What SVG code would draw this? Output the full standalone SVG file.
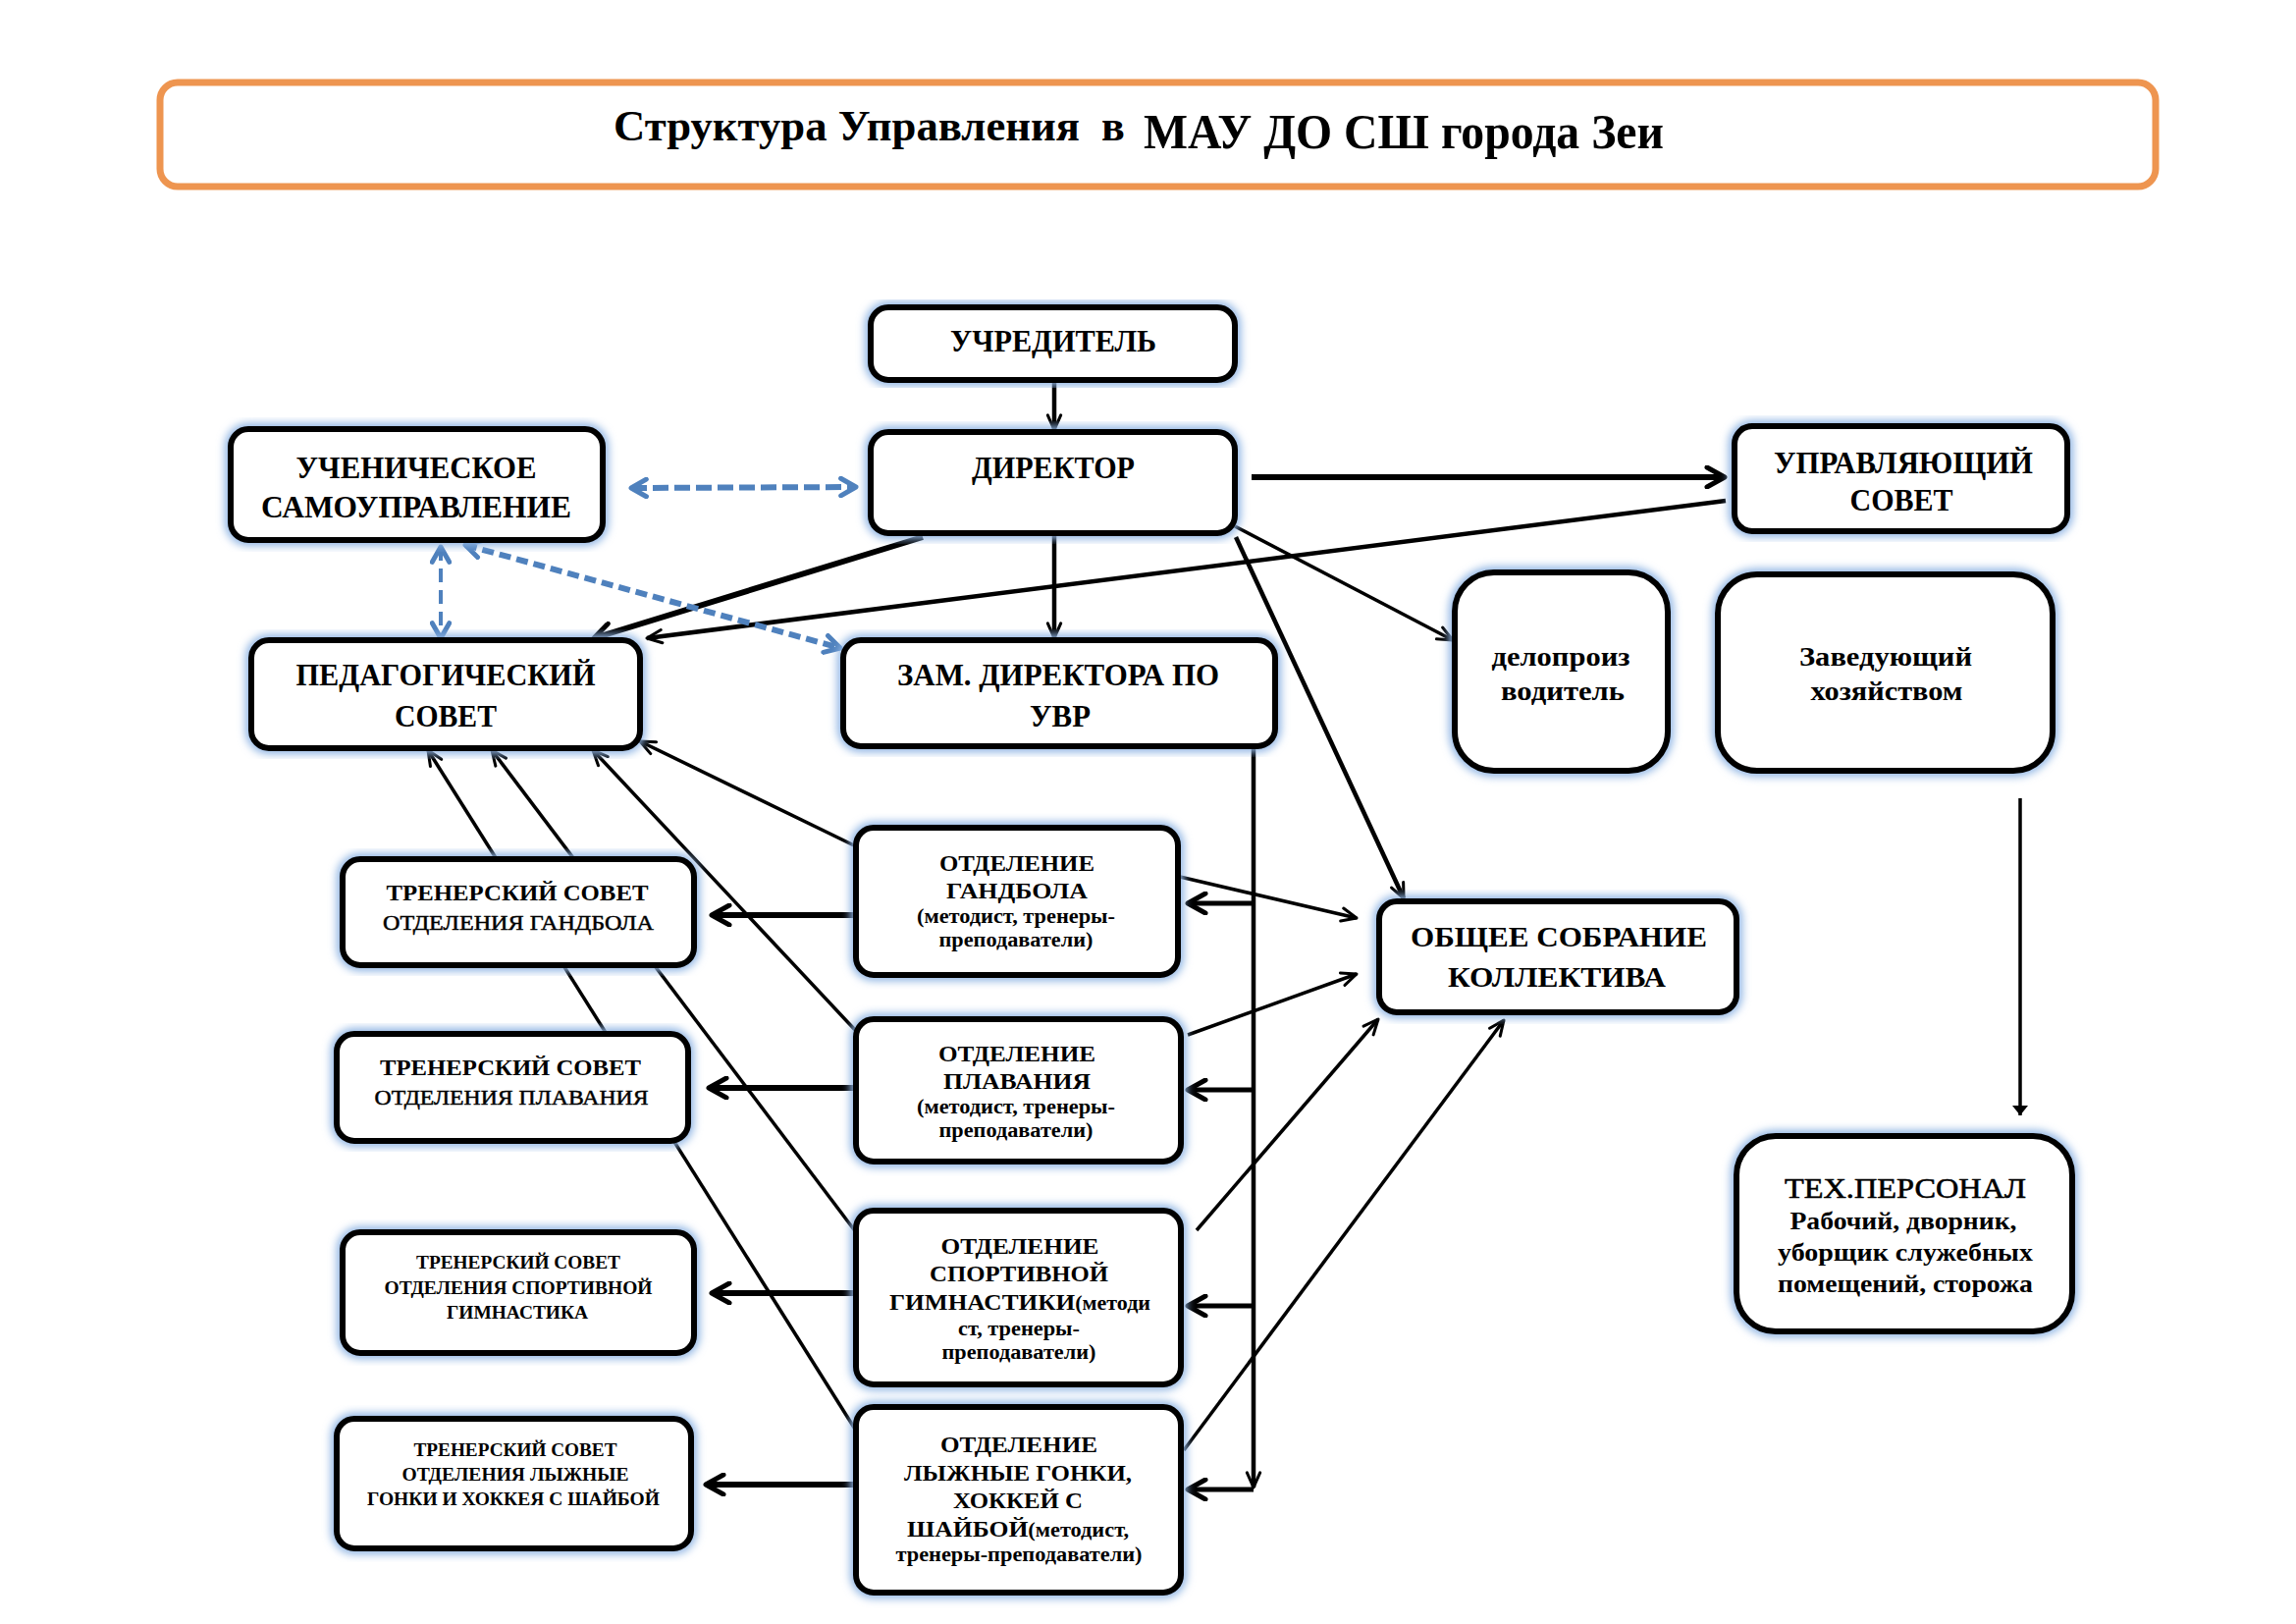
<svg xmlns="http://www.w3.org/2000/svg" width="2339" height="1654" viewBox="0 0 2339 1654">
<style>
.bg{fill:#fff}
.box{fill:#fff;stroke:#000;stroke-width:6}
.glow{fill:none;stroke:#8EB4E3;stroke-width:12;filter:url(#blur)}
.t{font-family:"Liberation Serif","Times New Roman",serif;font-weight:bold;fill:#000;text-anchor:middle}
.r{font-weight:normal}
.s31{font-size:31px}
.s30{font-size:30px}
.s28{font-size:28px}
.s25{font-size:25px}
.s23{font-size:23px}
.s22{font-size:22px}
.s20{font-size:20px}
.s18{font-size:18px}
.ln{fill:none;stroke:#000;stroke-linecap:butt}
.w3{stroke-width:3.5}
.w4{stroke-width:4.5}
.w5{stroke-width:5}
.w6{stroke-width:6}
.thin{marker-end:url(#aThin)}
.thick{marker-end:url(#aThick)}
.dash{fill:none;stroke:#4F81BD;marker-start:url(#aBlue);marker-end:url(#aBlue)}
</style>
<defs>
<filter id="blur" x="-10%" y="-10%" width="120%" height="120%"><feGaussianBlur stdDeviation="4"/></filter>
<marker id="aThin" viewBox="0 0 20 20" refX="18" refY="10" markerWidth="19" markerHeight="19" markerUnits="userSpaceOnUse" orient="auto-start-reverse">
<path d="M2,3 L18,10 L2,17" fill="none" stroke="#000" stroke-width="3.2" stroke-linecap="round" stroke-linejoin="round"/>
</marker>
<marker id="aThick" viewBox="0 0 24 24" refX="21" refY="12" markerWidth="24" markerHeight="24" markerUnits="userSpaceOnUse" orient="auto-start-reverse">
<path d="M3,2 L21,12 L3,22" fill="none" stroke="#000" stroke-width="5" stroke-linecap="round" stroke-linejoin="round"/>
</marker>
<marker id="aBlue" viewBox="0 0 20 20" refX="17" refY="10" markerWidth="22" markerHeight="22" markerUnits="userSpaceOnUse" orient="auto-start-reverse">
<path d="M3,2 L17,10 L3,18" fill="none" stroke="#4F81BD" stroke-width="4.5" stroke-linecap="round" stroke-linejoin="round"/>
</marker>
<marker id="aFill" viewBox="0 0 10 20" refX="10" refY="10" markerWidth="10" markerHeight="20" markerUnits="userSpaceOnUse" orient="auto">
<path d="M0,2 L10,10 L0,18 Z" fill="#000"/>
</marker>
</defs>
<rect class="bg" x="0" y="0" width="2339" height="1654"/>

<g id="title">
<rect x="163" y="84" width="2033" height="106" rx="18" fill="#fff" stroke="#EE9550" stroke-width="7"/>
<text class="t" style="text-anchor:start;font-size:44px" x="625" y="143" textLength="475" lengthAdjust="spacingAndGlyphs">Структура Управления</text>
<text class="t" style="text-anchor:start;font-size:44px" x="1122" y="143">в</text>
<text class="t" style="text-anchor:start;font-size:50px" x="1165" y="151" textLength="530" lengthAdjust="spacingAndGlyphs">МАУ ДО СШ города Зеи</text>
</g>

<g id="connectors">
<path class="ln w4 thin" d="M1074,387 L1074,438"/>
<path class="ln w6 thick" d="M1275,486 L1757,486"/>
<path class="ln w4 thin" d="M1758,510 L659,650"/>
<path class="ln w6 thick" d="M940,547 L605,650"/>
<path class="ln w4 thin" d="M1074,546 L1074,650"/>
<path class="ln w3 thin" d="M1258,536 L1480,652"/>
<path class="ln w4 thin" d="M1259,547 L1430,915"/>
<path class="ln w4 thin" d="M1277,760 L1277,1515"/>
<path class="ln w5 thick" d="M1277,920 L1210,920"/>
<path class="ln w5 thick" d="M1277,1110 L1210,1110"/>
<path class="ln w5 thick" d="M1277,1330 L1210,1330"/>
<path class="ln w5 thick" d="M1277,1517 L1210,1517"/>
<path class="ln w6 thick" d="M872,932 L725,932"/>
<path class="ln w6 thick" d="M872,1108 L722,1108"/>
<path class="ln w6 thick" d="M872,1317 L725,1317"/>
<path class="ln w6 thick" d="M872,1512 L719,1512"/>
<path class="ln w3 thin" d="M1202,893 L1382,935"/>
<path class="ln w3 thin" d="M1210,1054 L1382,992"/>
<path class="ln w3 thin" d="M1219,1253 L1404,1038"/>
<path class="ln w3 thin" d="M1206,1477 L1532,1039"/>
<path class="ln w3 thin" d="M872,862 L652,755"/>
<path class="ln w3 thin" d="M872,1050 L604,764"/>
<path class="ln w3 thin" d="M872,1255 L501,764"/>
<path class="ln w3 thin" d="M872,1457 L436,764"/>
<path class="ln w3" d="M2058,813 L2058,1136" marker-end="url(#aFill)"/>
<path class="dash" stroke-width="6" stroke-dasharray="16 6" d="M643,497 L872,496"/>
<path class="dash" stroke-width="4" stroke-dasharray="14 8" d="M449,557 L449,650"/>
<path class="dash" stroke-width="6" stroke-dasharray="12 6" d="M474,555 L856,660"/>
</g>

<g id="n-uchreditel">
<rect class="glow" x="887" y="313" width="371" height="74" rx="18"/>
<rect class="box" x="887" y="313" width="371" height="74" rx="18"/>
<text class="t s31" x="1073" y="358" textLength="210" lengthAdjust="spacingAndGlyphs">УЧРЕДИТЕЛЬ</text>
</g>
<g id="n-director">
<rect class="glow" x="887" y="440" width="371" height="103" rx="18"/>
<rect class="box" x="887" y="440" width="371" height="103" rx="18"/>
<text class="t s31" x="1073" y="487" textLength="166" lengthAdjust="spacingAndGlyphs">ДИРЕКТОР</text>
</g>
<g id="n-uchenich">
<rect class="glow" x="235" y="437" width="379" height="113" rx="18"/>
<rect class="box" x="235" y="437" width="379" height="113" rx="18"/>
<text class="t s31" x="424" y="487" textLength="245" lengthAdjust="spacingAndGlyphs">УЧЕНИЧЕСКОЕ</text>
<text class="t s31" x="424" y="527" textLength="316" lengthAdjust="spacingAndGlyphs">САМОУПРАВЛЕНИЕ</text>
</g>
<g id="n-ped">
<rect class="glow" x="256" y="652" width="396" height="110" rx="18"/>
<rect class="box" x="256" y="652" width="396" height="110" rx="18"/>
<text class="t s31" x="454" y="698" textLength="305" lengthAdjust="spacingAndGlyphs">ПЕДАГОГИЧЕСКИЙ</text>
<text class="t s31" x="454" y="740" textLength="104" lengthAdjust="spacingAndGlyphs">СОВЕТ</text>
</g>
<g id="n-zam">
<rect class="glow" x="859" y="652" width="440" height="108" rx="18"/>
<rect class="box" x="859" y="652" width="440" height="108" rx="18"/>
<text class="t s31" x="1078" y="698" textLength="328" lengthAdjust="spacingAndGlyphs">ЗАМ. ДИРЕКТОРА ПО</text>
<text class="t s31" x="1080" y="740" textLength="62" lengthAdjust="spacingAndGlyphs">УВР</text>
</g>
<g id="n-upr">
<rect class="glow" x="1767" y="434" width="339" height="107" rx="18"/>
<rect class="box" x="1767" y="434" width="339" height="107" rx="18"/>
<text class="t s31" x="1939" y="482" textLength="264" lengthAdjust="spacingAndGlyphs">УПРАВЛЯЮЩИЙ</text>
<text class="t s31" x="1937" y="520" textLength="105" lengthAdjust="spacingAndGlyphs">СОВЕТ</text>
</g>
<g id="n-delo">
<rect class="glow" x="1482" y="583" width="217" height="202" rx="40"/>
<rect class="box" x="1482" y="583" width="217" height="202" rx="40"/>
<text class="t s28" x="1590" y="678" textLength="141" lengthAdjust="spacingAndGlyphs">делопроиз</text>
<text class="t s28" x="1592" y="713" textLength="126" lengthAdjust="spacingAndGlyphs">водитель</text>
</g>
<g id="n-zav">
<rect class="glow" x="1750" y="585" width="341" height="200" rx="40"/>
<rect class="box" x="1750" y="585" width="341" height="200" rx="40"/>
<text class="t s28" x="1921" y="678" textLength="176" lengthAdjust="spacingAndGlyphs">Заведующий</text>
<text class="t s28" x="1922" y="713" textLength="155" lengthAdjust="spacingAndGlyphs">хозяйством</text>
</g>
<g id="n-obsh">
<rect class="glow" x="1405" y="918" width="364" height="113" rx="18"/>
<rect class="box" x="1405" y="918" width="364" height="113" rx="18"/>
<text class="t s30" x="1588" y="964" textLength="302" lengthAdjust="spacingAndGlyphs">ОБЩЕЕ СОБРАНИЕ</text>
<text class="t s30" x="1586" y="1005" textLength="222" lengthAdjust="spacingAndGlyphs">КОЛЛЕКТИВА</text>
</g>
<g id="n-tex">
<rect class="glow" x="1769" y="1157" width="342" height="199" rx="40"/>
<rect class="box" x="1769" y="1157" width="342" height="199" rx="40"/>
<text class="t s30 r" x="1941" y="1220" textLength="246" lengthAdjust="spacingAndGlyphs" stroke="#000" stroke-width="0.6">ТЕХ.ПЕРСОНАЛ</text>
<text class="t s25" x="1939" y="1252" textLength="231" lengthAdjust="spacingAndGlyphs">Рабочий, дворник,</text>
<text class="t s25" x="1941" y="1284" textLength="260" lengthAdjust="spacingAndGlyphs">уборщик служебных</text>
<text class="t s25" x="1941" y="1316" textLength="260" lengthAdjust="spacingAndGlyphs">помещений, сторожа</text>
</g>
<g id="n-tr1">
<rect class="glow" x="349" y="875" width="358" height="108" rx="18"/>
<rect class="box" x="349" y="875" width="358" height="108" rx="18"/>
<text class="t s23" x="527" y="917" textLength="267" lengthAdjust="spacingAndGlyphs">ТРЕНЕРСКИЙ СОВЕТ</text>
<text class="t s22 r" x="528" y="947" textLength="276" lengthAdjust="spacingAndGlyphs" stroke="#000" stroke-width="0.5">ОТДЕЛЕНИЯ ГАНДБОЛА</text>
</g>
<g id="n-otd1">
<rect class="glow" x="872" y="843" width="328" height="150" rx="18"/>
<rect class="box" x="872" y="843" width="328" height="150" rx="18"/>
<text class="t s23" x="1036" y="887" textLength="158" lengthAdjust="spacingAndGlyphs">ОТДЕЛЕНИЕ</text>
<text class="t s23" x="1036" y="915" textLength="144" lengthAdjust="spacingAndGlyphs">ГАНДБОЛА</text>
<text class="t s20" x="1035" y="940" textLength="202" lengthAdjust="spacingAndGlyphs">(методист, тренеры-</text>
<text class="t s20" x="1035" y="964" textLength="157" lengthAdjust="spacingAndGlyphs">преподаватели)</text>
</g>
<g id="n-tr2">
<rect class="glow" x="343" y="1053" width="358" height="109" rx="18"/>
<rect class="box" x="343" y="1053" width="358" height="109" rx="18"/>
<text class="t s23" x="520" y="1095" textLength="266" lengthAdjust="spacingAndGlyphs">ТРЕНЕРСКИЙ СОВЕТ</text>
<text class="t s22 r" x="521" y="1125" textLength="279" lengthAdjust="spacingAndGlyphs" stroke="#000" stroke-width="0.5">ОТДЕЛЕНИЯ ПЛАВАНИЯ</text>
</g>
<g id="n-otd2">
<rect class="glow" x="872" y="1038" width="331" height="145" rx="18"/>
<rect class="box" x="872" y="1038" width="331" height="145" rx="18"/>
<text class="t s23" x="1036" y="1081" textLength="160" lengthAdjust="spacingAndGlyphs">ОТДЕЛЕНИЕ</text>
<text class="t s23" x="1036" y="1109" textLength="150" lengthAdjust="spacingAndGlyphs">ПЛАВАНИЯ</text>
<text class="t s20" x="1035" y="1134" textLength="202" lengthAdjust="spacingAndGlyphs">(методист, тренеры-</text>
<text class="t s20" x="1035" y="1158" textLength="157" lengthAdjust="spacingAndGlyphs">преподаватели)</text>
</g>
<g id="n-tr3">
<rect class="glow" x="349" y="1255" width="358" height="123" rx="18"/>
<rect class="box" x="349" y="1255" width="358" height="123" rx="18"/>
<text class="t s18" x="528" y="1292" textLength="208" lengthAdjust="spacingAndGlyphs">ТРЕНЕРСКИЙ СОВЕТ</text>
<text class="t s18" x="528" y="1318" textLength="273" lengthAdjust="spacingAndGlyphs">ОТДЕЛЕНИЯ СПОРТИВНОЙ</text>
<text class="t s18" x="527" y="1343" textLength="144" lengthAdjust="spacingAndGlyphs">ГИМНАСТИКА</text>
</g>
<g id="n-otd3">
<rect class="glow" x="872" y="1233" width="331" height="177" rx="18"/>
<rect class="box" x="872" y="1233" width="331" height="177" rx="18"/>
<text class="t s23" x="1039" y="1277" textLength="161" lengthAdjust="spacingAndGlyphs">ОТДЕЛЕНИЕ</text>
<text class="t s23" x="1038" y="1305" textLength="182" lengthAdjust="spacingAndGlyphs">СПОРТИВНОЙ</text>
<text class="t s23" x="1039" y="1334" textLength="266" lengthAdjust="spacingAndGlyphs">ГИМНАСТИКИ<tspan class="s20">(методи</tspan></text>
<text class="t s20" x="1038" y="1360" textLength="124" lengthAdjust="spacingAndGlyphs">ст, тренеры-</text>
<text class="t s20" x="1038" y="1384" textLength="157" lengthAdjust="spacingAndGlyphs">преподаватели)</text>
</g>
<g id="n-tr4">
<rect class="glow" x="343" y="1445" width="361" height="132" rx="18"/>
<rect class="box" x="343" y="1445" width="361" height="132" rx="18"/>
<text class="t s18" x="525" y="1483" textLength="207" lengthAdjust="spacingAndGlyphs">ТРЕНЕРСКИЙ СОВЕТ</text>
<text class="t s18" x="525" y="1508" textLength="231" lengthAdjust="spacingAndGlyphs">ОТДЕЛЕНИЯ ЛЫЖНЫЕ</text>
<text class="t s18" x="523" y="1533" textLength="298" lengthAdjust="spacingAndGlyphs">ГОНКИ И ХОККЕЯ С ШАЙБОЙ</text>
</g>
<g id="n-otd4">
<rect class="glow" x="872" y="1433" width="331" height="189" rx="18"/>
<rect class="box" x="872" y="1433" width="331" height="189" rx="18"/>
<text class="t s23" x="1038" y="1479" textLength="160" lengthAdjust="spacingAndGlyphs">ОТДЕЛЕНИЕ</text>
<text class="t s23" x="1037" y="1508" textLength="232" lengthAdjust="spacingAndGlyphs">ЛЫЖНЫЕ ГОНКИ,</text>
<text class="t s23" x="1037" y="1536" textLength="132" lengthAdjust="spacingAndGlyphs">ХОККЕЙ С</text>
<text class="t s23" x="1037" y="1565" textLength="226" lengthAdjust="spacingAndGlyphs">ШАЙБОЙ<tspan class="s20">(методист,</tspan></text>
<text class="t s20" x="1038" y="1590" textLength="251" lengthAdjust="spacingAndGlyphs">тренеры-преподаватели)</text>
</g>
</svg>
